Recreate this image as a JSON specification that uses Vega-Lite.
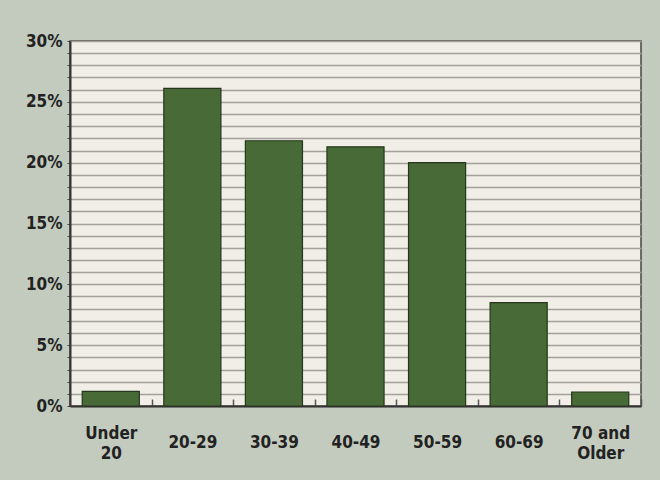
{
  "$schema": "https://vega.github.io/schema/vega-lite/v6.json",
  "width": 571,
  "height": 365,
  "autosize": {"type": "none"},
  "padding": {"left": 70, "top": 41, "right": 19, "bottom": 74},
  "background": "#c3cbbe",
  "data": {
    "values": [
      {"age": "Under 20", "pct": 1.2},
      {"age": "20-29", "pct": 26.1},
      {"age": "30-39", "pct": 21.8},
      {"age": "40-49", "pct": 21.3},
      {"age": "50-59", "pct": 20.0},
      {"age": "60-69", "pct": 8.5},
      {"age": "70 and Older", "pct": 1.15}
    ]
  },
  "mark": {"type": "bar", "fill": "#486a36", "stroke": "#26361c", "strokeWidth": 1.2},
  "encoding": {
    "x": {
      "field": "age",
      "type": "nominal",
      "sort": null,
      "scale": {"paddingInner": 0.3, "paddingOuter": 0.15},
      "axis": {
        "title": null,
        "labelAngle": 0,
        "labelFont": "Liberation Sans Narrow, DejaVu Sans Condensed",
        "labelFontWeight": "bold",
        "labelFontSize": 17,
        "labelColor": "#222",
        "labelBaseline": "middle",
        "labelLineHeight": 20,
        "labelPadding": {
          "condition": {"test": "datum.value == 'Under 20' || datum.value == '70 and Older'", "value": 34},
          "value": 43
        },
        "labelExpr": "datum.label == 'Under 20' ? ['Under', '20'] : datum.label == '70 and Older' ? ['70 and', 'Older'] : datum.label",
        "tickOffset": 40.8,
        "labelOffset": -40.8,
        "tickSize": -7,
        "tickColor": "#555",
        "tickWidth": 1.5,
        "domainColor": "#333",
        "domainWidth": 2,
        "grid": false
      }
    },
    "y": {
      "field": "pct",
      "type": "quantitative",
      "scale": {"domain": [0, 30], "nice": false},
      "axis": {
        "title": null,
        "values": [0,1,2,3,4,5,6,7,8,9,10,11,12,13,14,15,16,17,18,19,20,21,22,23,24,25,26,27,28,29,30],
        "labelExpr": "datum.value % 5 === 0 ? datum.value + '%' : ''",
        "labelFont": "Liberation Sans Narrow, DejaVu Sans Condensed",
        "labelFontWeight": "bold",
        "labelFontSize": 17,
        "labelColor": "#222",
        "labelPadding": 5,
        "tickSize": 3,
        "tickColor": "#444",
        "domainColor": "#333",
        "domainWidth": 2,
        "grid": true,
        "gridColor": "#a3a19a",
        "gridWidth": 1.6
      }
    }
  },
  "config": {
    "view": {"fill": "#f1eee7", "stroke": "#444", "strokeWidth": 1.5}
  }
}
